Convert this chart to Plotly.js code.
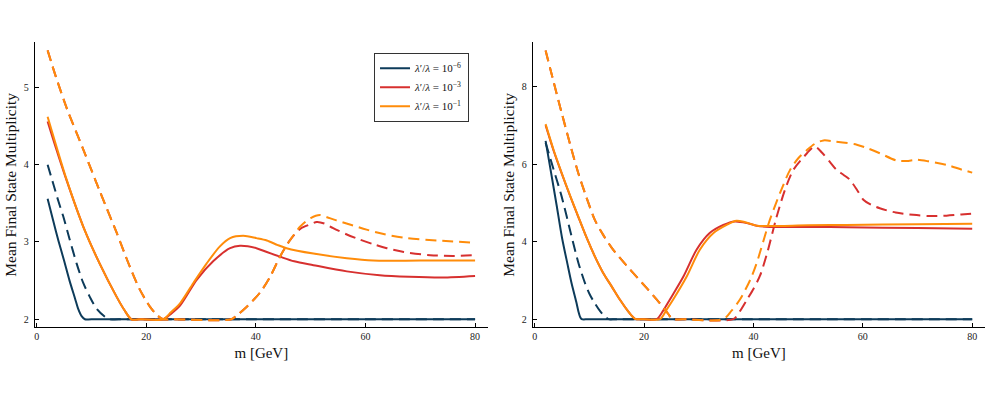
<!DOCTYPE html>
<html>
<head>
<meta charset="utf-8">
<script src="https://cdn.plot.ly/plotly-3.0.1.min.js"></script>
<style>
  html, body { margin: 0; padding: 0; background: #ffffff; }
  #chart { width: 995px; height: 398px; }
</style>
</head>
<body>
<div id="chart"></div>
<script>
// ---------- Data ----------
// Left panel
const leftNavySolidX = [2, 3, 4, 5, 6, 7, 7.6, 8.2, 8.8, 10, 80];
const leftNavySolidY = [3.56, 3.28, 3.01, 2.76, 2.5, 2.27, 2.13, 2.04, 2.0, 2.0, 2.0];
const leftNavyDashX = [2, 3, 4, 4.86, 6, 7.3, 8.5, 9.7, 11, 12.5, 13.3, 15, 80];
const leftNavyDashY = [4.0, 3.76, 3.52, 3.33, 3.04, 2.72, 2.47, 2.29, 2.13, 2.03, 2.0, 2.0, 2.0];
const leftRedSolidX = [2, 3.5, 5.5, 8.5, 11.5, 14.6, 16, 17.3, 19, 23.1, 24.5, 26.2, 29.2, 32.2, 35.3, 37.1, 40.1, 42, 44.4, 47, 50.5, 56.6, 62.6, 68, 74, 80];
const leftRedSolidY = [4.56, 4.22, 3.79, 3.2, 2.72, 2.29, 2.12, 2.0, 2.0, 2.0, 2.07, 2.18, 2.51, 2.75, 2.92, 2.95, 2.92, 2.87, 2.81, 2.75, 2.70, 2.62, 2.57, 2.55, 2.54, 2.56];
const leftRedDashX = [2, 3.5, 5.5, 8.5, 11.5, 14.6, 17, 18.85, 20.7, 22, 23.1, 25, 35.5, 36.5, 38.3, 40.7, 42.6, 44.4, 46.2, 48.1, 50, 51.1, 52.5, 54.1, 56.5, 59, 61.5, 63.9, 67, 71.8, 76, 80];
const leftRedDashY = [5.48, 5.14, 4.73, 4.2, 3.66, 3.12, 2.68, 2.38, 2.16, 2.05, 2.0, 2.0, 2.0, 2.05, 2.16, 2.34, 2.55, 2.81, 3.02, 3.17, 3.23, 3.26, 3.24, 3.18, 3.10, 3.03, 2.97, 2.92, 2.87, 2.83, 2.82, 2.83];
const leftOrangeSolidX = [2, 3.5, 5.5, 8.5, 11.5, 14.6, 16, 17.3, 19, 23.1, 24.5, 26.2, 28.6, 31, 33.4, 35.3, 37.7, 40.1, 42, 44, 45.6, 50.5, 56.6, 61.4, 70, 80];
const leftOrangeSolidY = [4.62, 4.26, 3.80, 3.2, 2.72, 2.29, 2.12, 2.0, 2.0, 2.0, 2.09, 2.21, 2.47, 2.72, 2.94, 3.05, 3.08, 3.05, 3.02, 2.96, 2.92, 2.85, 2.79, 2.76, 2.76, 2.76];
const leftOrangeDashX = [2, 3.5, 5.5, 8.5, 11.5, 14.6, 17, 18.85, 20.7, 22, 23.1, 25, 35.5, 36.5, 38.3, 40.7, 42.6, 44.4, 46.2, 48.1, 50, 51.7, 53, 54.7, 57, 60.2, 63.5, 67.5, 73, 80];
const leftOrangeDashY = [5.48, 5.14, 4.73, 4.2, 3.66, 3.12, 2.68, 2.38, 2.16, 2.05, 2.0, 2.0, 2.0, 2.05, 2.16, 2.34, 2.55, 2.81, 3.02, 3.2, 3.31, 3.35, 3.32, 3.28, 3.23, 3.16, 3.10, 3.05, 3.02, 2.99];

// Right panel
const rightNavySolidX = [2, 3, 4, 5, 6, 6.76, 7.6, 8.0, 8.3, 8.6, 10, 80];
const rightNavySolidY = [6.6, 5.78, 4.95, 4.1, 3.42, 2.92, 2.45, 2.2, 2.06, 2.0, 2.0, 2.0];
const rightNavyDashX = [2, 3.1, 4.94, 6.76, 8, 9.2, 10.1, 11, 12, 12.85, 13.5, 15, 80];
const rightNavyDashY = [6.55, 6.03, 5.16, 4.13, 3.45, 2.93, 2.63, 2.41, 2.2, 2.07, 2.0, 2.0, 2.0];
const rightRedSolidX = [2, 3.5, 4.94, 6.5, 7.97, 9.5, 11, 12.5, 14.1, 15.6, 17.1, 18.0, 18.5, 20, 22.3, 23.5, 24.7, 27.2, 29.6, 32, 34.5, 36.6, 38.8, 40.6, 43, 50, 57, 70, 80];
const rightRedSolidY = [7.0, 6.33, 5.76, 5.17, 4.64, 4.1, 3.62, 3.2, 2.84, 2.5, 2.2, 2.05, 2.0, 2.0, 2.0, 2.22, 2.5, 3.1, 3.79, 4.22, 4.43, 4.52, 4.48, 4.41, 4.38, 4.38, 4.37, 4.35, 4.33];
const rightRedDashX = [2, 3.5, 4.94, 6.5, 7.97, 9.5, 11, 12.5, 14.1, 15.6, 17.5, 20.5, 22.9, 24.4, 25.2, 27, 36.3, 37.5, 38.8, 40, 41.2, 42.5, 44.2, 45.8, 47.3, 49.3, 51.2, 52.5, 54, 55.2, 56.5, 57.6, 59, 60.1, 61.5, 63.1, 66, 69.2, 72, 75.3, 78, 80];
const rightRedDashY = [8.93, 8.1, 7.32, 6.5, 5.77, 5.13, 4.56, 4.18, 3.84, 3.58, 3.27, 2.8, 2.41, 2.14, 2.0, 2.0, 2.0, 2.2, 2.5, 2.78, 3.12, 3.7, 4.62, 5.35, 5.85, 6.2, 6.45, 6.3, 6.05, 5.85, 5.72, 5.6, 5.32, 5.08, 4.95, 4.86, 4.75, 4.69, 4.66, 4.67, 4.7, 4.72];
const rightOrangeSolidX = [2, 3.5, 4.94, 6.5, 7.97, 9.5, 11, 12.5, 14.1, 15.6, 17.1, 18.0, 18.5, 20, 22.9, 24.1, 25.3, 27.8, 30.2, 32.7, 35.1, 36.9, 38.5, 40.6, 43, 50, 57, 70, 80];
const rightOrangeSolidY = [7.03, 6.35, 5.77, 5.18, 4.65, 4.1, 3.62, 3.2, 2.84, 2.5, 2.2, 2.05, 2.0, 2.0, 2.0, 2.24, 2.5, 3.1, 3.79, 4.22, 4.43, 4.54, 4.5, 4.41, 4.4, 4.42, 4.43, 4.45, 4.46];
const rightOrangeDashX = [2, 3.5, 4.94, 6.5, 7.97, 9.5, 11, 12.5, 14.1, 15.6, 17.5, 20.5, 22.9, 24.4, 25.2, 27, 34.5, 36, 37.5, 39.4, 40.6, 43, 45, 46.7, 48.2, 49.7, 51.2, 52.8, 55, 58.9, 61, 63.1, 66.2, 68, 69.8, 72, 75.3, 78, 80];
const rightOrangeDashY = [8.93, 8.1, 7.32, 6.5, 5.77, 5.13, 4.56, 4.18, 3.84, 3.58, 3.27, 2.8, 2.41, 2.14, 2.0, 2.0, 2.0, 2.22, 2.5, 3.01, 3.45, 4.56, 5.3, 5.85, 6.15, 6.35, 6.52, 6.61, 6.58, 6.5, 6.4, 6.28, 6.09, 6.08, 6.11, 6.07, 5.98, 5.86, 5.78];

const legendNames = ["<i>λ</i>′/<i>λ</i> = 10<sup>−6</sup>", "<i>λ</i>′/<i>λ</i> = 10<sup>−3</sup>", "<i>λ</i>′/<i>λ</i> = 10<sup>−1</sup>"];
const xTicks = [0, 20, 40, 60, 80];
const leftYTicks = [2, 3, 4, 5];
const rightYTicks = [2, 4, 6, 8];
const xTitle = "m [GeV]";
const yTitle = "Mean Final State Multiplicity";

// ---------- Styling ----------
const NAVY = "#0d3b5a";
const RED = "#d7302f";
const ORANGE = "#ff8c0a";
const LW = 2;
const DASH = "11px,6px";
const FONT = "Liberation Serif, DejaVu Serif, serif";

function tr(x, y, color, dashed, xa, ya, name, showLegend) {
  return {
    type: "scatter", mode: "lines", x: x, y: y,
    xaxis: xa, yaxis: ya,
    name: name || "", showlegend: !!showLegend,
    line: { color: color, width: LW, dash: dashed ? DASH : "solid", shape: "spline", smoothing: 0.8 },
    hoverinfo: "skip"
  };
}

const data = [
  tr(leftNavySolidX, leftNavySolidY, NAVY, false, "x", "y", legendNames[0], true),
  tr(leftNavyDashX, leftNavyDashY, NAVY, true, "x", "y"),
  tr(leftRedSolidX, leftRedSolidY, RED, false, "x", "y", legendNames[1], true),
  tr(leftRedDashX, leftRedDashY, RED, true, "x", "y"),
  tr(leftOrangeSolidX, leftOrangeSolidY, ORANGE, false, "x", "y", legendNames[2], true),
  tr(leftOrangeDashX, leftOrangeDashY, ORANGE, true, "x", "y"),
  tr(rightNavySolidX, rightNavySolidY, NAVY, false, "x2", "y2"),
  tr(rightNavyDashX, rightNavyDashY, NAVY, true, "x2", "y2"),
  tr(rightRedSolidX, rightRedSolidY, RED, false, "x2", "y2"),
  tr(rightRedDashX, rightRedDashY, RED, true, "x2", "y2"),
  tr(rightOrangeSolidX, rightOrangeSolidY, ORANGE, false, "x2", "y2"),
  tr(rightOrangeDashX, rightOrangeDashY, ORANGE, true, "x2", "y2")
];

function xAxis(domain, anchor) {
  return {
    domain: domain, anchor: anchor, range: [-0.34, 82.34],
    tickmode: "array", tickvals: xTicks, ticktext: xTicks.map(String),
    ticks: "inside", ticklen: 4, tickwidth: 1, tickcolor: "#000",
    showline: true, linecolor: "#000", linewidth: 1, mirror: false,
    showgrid: false, zeroline: false, automargin: false,
    tickfont: { family: FONT, size: 10, color: "#222" },
    title: { text: xTitle, font: { family: FONT, size: 15, color: "#111" }, standoff: 6 }
  };
}
function yAxis(domain, anchor, range, ticks) {
  return {
    domain: domain, anchor: anchor, range: range,
    tickmode: "array", tickvals: ticks, ticktext: ticks.map(String),
    ticks: "inside", ticklen: 4, tickwidth: 1, tickcolor: "#000",
    showline: true, linecolor: "#000", linewidth: 1, mirror: false,
    showgrid: false, zeroline: false, automargin: false,
    ticklabelstandoff: 3,
    tickfont: { family: FONT, size: 10, color: "#222" },
    title: { text: yTitle, font: { family: FONT, size: 15.5, color: "#111" }, standoff: 3 }
  };
}

const yDom = [0.1776, 0.8937];
const layout = {
  width: 995, height: 398,
  margin: { l: 0, r: 0, t: 0, b: 0 },
  paper_bgcolor: "#ffffff", plot_bgcolor: "#ffffff",
  showlegend: true,
  xaxis: xAxis([0.03497, 0.49035], "y"),
  yaxis: yAxis(yDom, "x", [1.896, 5.584], leftYTicks),
  xaxis2: xAxis([0.53548, 0.98995], "y2"),
  yaxis2: yAxis(yDom, "x2", [1.79, 9.14], rightYTicks),
  legend: {
    x: 0.3759, y: 0.8676, xanchor: "left", yanchor: "top",
    bgcolor: "#ffffff", bordercolor: "#333", borderwidth: 1,
    font: { family: FONT, size: 11, color: "#111" },
    tracegroupgap: 0
  }
};

Plotly.newPlot("chart", data, layout, { staticPlot: true, displayModeBar: false });
</script>
</body>
</html>
